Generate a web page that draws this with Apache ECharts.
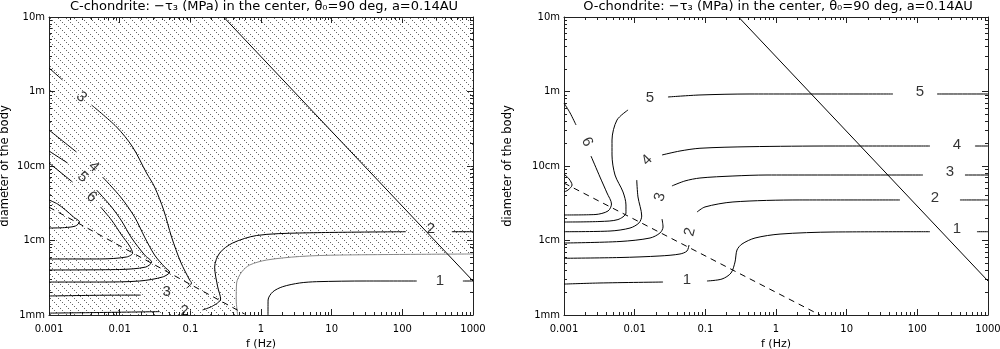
<!DOCTYPE html>
<html>
<head>
<meta charset="utf-8">
<script src="https://cdn.jsdelivr.net/npm/echarts@6/dist/echarts.min.js"></script>
<style>
  html, body { margin: 0; padding: 0; background: #fff; }
  #chart { width: 1000px; height: 349px; }
</style>
</head>
<body>
<div id="chart"></div>
<script>
// axis ticks
const fTicks = [0.001, 0.01, 0.1, 1, 10, 100, 1000];
const fTickLabels = ['0.001', '0.01', '0.1', '1', '10', '100', '1000'];
const dTicks = [0.001, 0.01, 0.1, 1, 10];
const dTickLabels = ['1mm', '1cm', '10cm', '1m', '10m'];
const minorSteps = [2, 3, 4, 5, 6, 7, 8, 9];

// contours, [f (Hz), diameter (m)], split where the label sits
const leftC1 = [
  [[1.256, 0.001], [1.26, 0.00159], [1.465, 0.00204], [2.03, 0.0024], [3.53, 0.00269], [6.15, 0.0028], [31.4, 0.00286], [160, 0.00286]],
  [[719, 0.00286], [1000, 0.00286]]
];
const leftC2 = [
  [[0.001, 0.00106], [0.0052, 0.00108], [0.0367, 0.00111]],
  [[0.149, 0.00117], [0.207, 0.00132], [0.2685, 0.00164], [0.244, 0.00238], [0.221, 0.0044], [0.26, 0.00679], [0.397, 0.00925], [0.869, 0.01167], [3.53, 0.01261], [112, 0.01312]],
  [[502, 0.01312], [1000, 0.01312]]
];
const leftC3 = [
  [[0.001, 2.07], [0.00155, 1.43]],
  [[0.004, 0.659], [0.00904, 0.334], [0.01525, 0.18], [0.024, 0.0805], [0.0312, 0.0523], [0.0419, 0.0257], [0.0543, 0.0111], [0.073, 0.00514], [0.0977, 0.00295], [0.104, 0.00269], [0.0887, 0.0023]],
  [[0.0198, 0.00185], [0.0052, 0.00184], [0.001, 0.0018]]
];
const leftC4 = [
  [[0.001, 0.304], [0.00245, 0.154]],
  [[0.00573, 0.0711], [0.0103, 0.0384], [0.01625, 0.0207], [0.02256, 0.0111], [0.0312, 0.00638], [0.0433, 0.0044], [0.0509, 0.00378], [0.0406, 0.00324], [0.0191, 0.00286], [0.0052, 0.00277], [0.001, 0.00277]]
];
const leftC5 = [
  [[0.001, 0.159], [0.00183, 0.1097]],
  [[0.00471, 0.0476], [0.00767, 0.0282], [0.01064, 0.0183], [0.01475, 0.0108], [0.02256, 0.00638], [0.0283, 0.00514], [0.0233, 0.0044], [0.00997, 0.00408], [0.001, 0.00402]]
];
const leftC6 = [
  [[0.001, 0.1097], [0.00215, 0.061]],
  [[0.00536, 0.0282], [0.00767, 0.0188], [0.01064, 0.01186], [0.0138, 0.00844], [0.01525, 0.00679], [0.01254, 0.00601], [0.0052, 0.00565], [0.001, 0.00565]]
];
const leftC7 = [
  [[0.001, 0.035], [0.00132, 0.0309], [0.00171, 0.0257], [0.00222, 0.0207], [0.0027, 0.0177], [0.00237, 0.01566], [0.00166, 0.0149], [0.001, 0.0147]]
];
const leftLabels = [
  [0.00288, 0.844, '3'], [0.00427, 0.097, '4'], [0.00298, 0.0711, '5'], [0.004, 0.0384, '6'],
  [0.0461, 0.00204, '3'], [0.083, 0.00113, '2'], [253, 0.01426, '2'], [340, 0.00286, '1']
];
const leftLabelAngles = [-45, -44, -43, -42, 0, 0, 0, 0];
// edge of the dotted region
const leftHatchEdge = [[0.468, 0.001], [0.446, 0.00159], [0.452, 0.00269], [0.533, 0.00378], [0.692, 0.00469], [1.205, 0.00547], [3.53, 0.0061], [13.0, 0.00638], [1000, 0.00659]];

const rightC1 = [
  [[0.001, 0.0026], [0.00323, 0.00269], [0.0252, 0.00277]],
  [[0.1055, 0.00286], [0.172, 0.00304], [0.2307, 0.00366], [0.263, 0.00514], [0.2806, 0.00745], [0.33, 0.00897], [0.505, 0.0108], [1.14, 0.0122], [6.4, 0.013], [151, 0.01312]],
  [[698, 0.01312], [1000, 0.01312]]
];
const rightC2 = [
  [[0.001, 0.00577], [0.0062, 0.00591], [0.0228, 0.0062], [0.0438, 0.00659], [0.055, 0.00723], [0.0588, 0.0087]],
  [[0.0762, 0.0241], [0.0989, 0.0282], [0.246, 0.0329], [2.18, 0.035], [56.8, 0.035]],
  [[401, 0.035], [1000, 0.035]]
];
const rightC3 = [
  [[0.001, 0.00925], [0.0062, 0.0097], [0.0165, 0.0108], [0.0228, 0.01261], [0.0252, 0.0152], [0.0244, 0.0194]],
  [[0.0337, 0.054], [0.0515, 0.063], [0.084, 0.069], [0.246, 0.0734], [0.746, 0.0757], [120, 0.0757]],
  [[472, 0.0757], [1000, 0.0757]]
];
const rightC4 = [
  [[0.001, 0.01312], [0.00448, 0.0134], [0.00859, 0.0147], [0.0115, 0.0172], [0.01258, 0.0213], [0.01114, 0.0384], [0.0107, 0.0649]],
  [[0.0244, 0.1406], [0.0438, 0.159], [0.084, 0.173], [0.4286, 0.1816], [6.4, 0.1855], [151, 0.1855]],
  [[654, 0.1855], [1000, 0.1855]]
];
const rightC5 = [
  [[0.001, 0.0177], [0.00323, 0.018], [0.0058, 0.0191], [0.00753, 0.0234], [0.00753, 0.03], [0.00684, 0.0448], [0.00527, 0.0757], [0.00478, 0.1406], [0.00478, 0.2234], [0.00562, 0.414], [0.00806, 0.565]],
  [[0.0296, 0.844], [0.084, 0.898], [0.4286, 0.926], [45.2, 0.926]],
  [[190, 0.926], [1000, 0.926]]
];
const rightC6 = [
  [[0.001, 0.701], [0.00122, 0.515], [0.00148, 0.355]],
  [[0.00241, 0.136], [0.00323, 0.0711], [0.00406, 0.0434], [0.0047, 0.0309], [0.0042, 0.0249], [0.00275, 0.0223], [0.001, 0.022]]
];
const rightC7 = [
  [[0.001, 0.078], [0.00118, 0.067], [0.0013, 0.0556], [0.00114, 0.0476], [0.001, 0.0448]]
];
const rightLabels = [
  [0.0165, 0.818, '5'], [109, 0.985, '5'], [0.00212, 0.21, '6'], [0.01494, 0.12, '4'], [364, 0.191, '4'],
  [0.0228, 0.0384, '3'], [290, 0.083, '3'], [0.0607, 0.013, '2'], [178, 0.0372, '2'], [0.055, 0.00295, '1'], [364, 0.01426, '1']
];
const rightLabelAngles = [0, 0, -64, 45, 0, 73, 0, 76, 0, 0, 0];

// straight lines
const solidLine = [[0.295, 10], [1000, 0.00286]];
const dashLeft = [[0.001, 0.028], [0.587, 0.00103]];
const dashRight = [[0.001, 0.059], [4.19, 0.001]];

const FONT = 'DejaVu Sans';
const minorOf = ticks => ticks.slice(0, -1).flatMap(t => minorSteps.map(k => t * k));
const fMinor = minorOf(fTicks);
const dMinor = minorOf(dTicks);

function pick(ticks, names) {
  return v => {
    for (let i = 0; i < ticks.length; i++) {
      if (Math.abs(Math.log10(v) - Math.log10(ticks[i])) < 1e-6) return names[i];
    }
    return '';
  };
}

const lineCol = '#222';
function xAxes(gi) {
  const base = { type: 'log', logBase: 10, min: 0.001, max: 1000, gridIndex: gi, splitLine: { show: false } };
  const major = { show: true, inside: true, length: 6, customValues: fTicks, lineStyle: { color: lineCol } };
  const minor = { show: true, inside: true, length: 3, customValues: fMinor, lineStyle: { color: lineCol } };
  return [
    Object.assign({}, base, {
      position: 'bottom',
      axisLine: { show: true, onZero: false, lineStyle: { color: lineCol } },
      axisTick: major,
      axisLabel: { show: true, customValues: fTicks, formatter: pick(fTicks, fTickLabels), margin: 9, fontFamily: FONT, fontSize: 10, color: '#000' },
      name: 'f (Hz)', nameLocation: 'middle', nameGap: 21,
      nameTextStyle: { fontFamily: FONT, fontSize: 11, color: '#000' }
    }),
    Object.assign({}, base, { position: 'bottom', axisLine: { show: false, onZero: false }, axisTick: minor, axisLabel: { show: false } }),
    Object.assign({}, base, { position: 'top', axisLine: { show: true, onZero: false, lineStyle: { color: lineCol } }, axisTick: major, axisLabel: { show: false } }),
    Object.assign({}, base, { position: 'top', axisLine: { show: false, onZero: false }, axisTick: minor, axisLabel: { show: false } })
  ];
}
function yAxes(gi, gap) {
  const base = { type: 'log', logBase: 10, min: 0.001, max: 10, gridIndex: gi, splitLine: { show: false } };
  const major = { show: true, inside: true, length: 6, customValues: dTicks, lineStyle: { color: lineCol } };
  const minor = { show: true, inside: true, length: 3, customValues: dMinor, lineStyle: { color: lineCol } };
  return [
    Object.assign({}, base, {
      position: 'left',
      axisLine: { show: true, onZero: false, lineStyle: { color: lineCol } },
      axisTick: major,
      axisLabel: { show: true, customValues: dTicks, formatter: pick(dTicks, dTickLabels), margin: 4, fontFamily: FONT, fontSize: 10, color: '#000' },
      name: 'diameter of the body', nameLocation: 'middle', nameGap: gap,
      nameTextStyle: { fontFamily: FONT, fontSize: 11.5, color: '#000' }
    }),
    Object.assign({}, base, { position: 'left', axisLine: { show: false, onZero: false }, axisTick: minor, axisLabel: { show: false } }),
    Object.assign({}, base, { position: 'right', axisLine: { show: true, onZero: false, lineStyle: { color: lineCol } }, axisTick: major, axisLabel: { show: false } }),
    Object.assign({}, base, { position: 'right', axisLine: { show: false, onZero: false }, axisTick: minor, axisLabel: { show: false } })
  ];
}

function contourSeries(contours, gi) {
  const out = [];
  contours.forEach(c => c.forEach(seg => {
    out.push({
      type: 'line', xAxisIndex: gi * 4, yAxisIndex: gi * 4, data: seg,
      symbol: 'none', smooth: 0.3, silent: true, z: 3,
      lineStyle: { color: '#000', width: 1 }
    });
  }));
  return out;
}
function straight(data, gi, dashed) {
  return {
    type: 'line', xAxisIndex: gi * 4, yAxisIndex: gi * 4, data: data,
    symbol: 'none', silent: true, z: 3,
    lineStyle: { color: '#000', width: 1, type: dashed ? [6, 5] : 'solid' }
  };
}
function labelSeries(labels, angles, gi) {
  return {
    type: 'scatter', xAxisIndex: gi * 4, yAxisIndex: gi * 4, symbolSize: 1, silent: true, z: 5,
    itemStyle: { color: 'rgba(0,0,0,0)' },
    data: labels.map((l, i) => ({ value: [l[0], l[1]], label: { rotate: angles[i] } })),
    label: {
      show: true, position: 'inside', formatter: p => labels[p.dataIndex][2],
      fontFamily: 'Liberation Sans', fontSize: 15, color: '#000'
    }
  };
}

// dotted fill tile
const tile = document.createElement('canvas');
tile.width = 8; tile.height = 8;
const tctx = tile.getContext('2d');
tctx.fillStyle = '#666';
[[0, 0], [2, 2], [4, 4], [6, 6]].forEach(p => tctx.fillRect(p[0], p[1], 1, 1));
const hatchFill = { image: tile, repeat: 'repeat' };
const hatchPoly = [[0.001, 0.001]].concat(leftHatchEdge, [[1000, 10], [0.001, 10]]);

const titleStyle = { fontFamily: FONT, fontSize: 13, fontWeight: 'normal', color: '#000' };

const chart = echarts.init(document.getElementById('chart'), null, { renderer: 'canvas' });
chart.setOption({
  animation: false,
  backgroundColor: '#fff',
  title: [
    { text: 'C-chondrite: −τ₃ (MPa) in the center, θ₀=90 deg, a=0.14AU', left: 264, top: 0, textAlign: 'center', padding: 0, textStyle: titleStyle },
    { text: 'O-chondrite: −τ₃ (MPa) in the center, θ₀=90 deg, a=0.14AU', left: 778, top: 0, textAlign: 'center', padding: 0, textStyle: titleStyle }
  ],
  grid: [
    { left: 49, right: 527, top: 17, bottom: 34, containLabel: false, outerBoundsMode: 'none' },
    { left: 564, right: 12, top: 17, bottom: 34, containLabel: false, outerBoundsMode: 'none' }
  ],
  xAxis: xAxes(0).concat(xAxes(1)),
  yAxis: yAxes(0, 38).concat(yAxes(1, 50)),
  series: [
    {
      type: 'custom', xAxisIndex: 0, yAxisIndex: 0, silent: true, z: 1,
      data: [[1, 1]],
      renderItem: (params, api) => ({
        type: 'polygon',
        shape: { points: hatchPoly.map(p => api.coord(p)) },
        style: { fill: hatchFill, stroke: null }
      })
    },
    {
      type: 'line', xAxisIndex: 0, yAxisIndex: 0, data: leftHatchEdge,
      symbol: 'none', smooth: 0.3, silent: true, z: 2,
      lineStyle: { color: '#888', width: 1 }
    },
    ...contourSeries([leftC1, leftC2, leftC3, leftC4, leftC5, leftC6, leftC7], 0),
    straight(solidLine, 0, false),
    straight(dashLeft, 0, true),
    labelSeries(leftLabels, leftLabelAngles, 0),
    ...contourSeries([rightC1, rightC2, rightC3, rightC4, rightC5, rightC6, rightC7], 1),
    straight(solidLine, 1, false),
    straight(dashRight, 1, true),
    labelSeries(rightLabels, rightLabelAngles, 1)
  ]
});
</script>
</body>
</html>
